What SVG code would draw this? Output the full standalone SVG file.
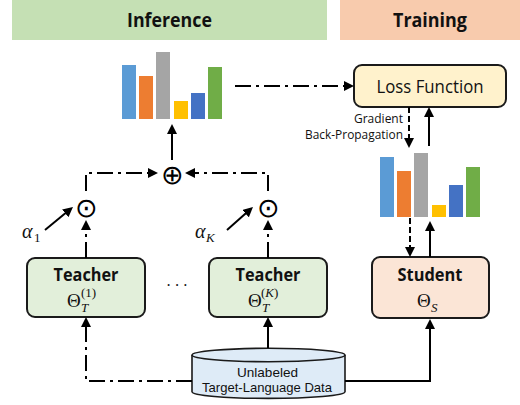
<svg xmlns="http://www.w3.org/2000/svg" width="520" height="405" viewBox="0 0 520 405">
<defs>
<marker id="ah" markerUnits="userSpaceOnUse" markerWidth="10" markerHeight="10" refX="2" refY="5" orient="auto">
<path d="M0,0 L10,5 L0,10 z" fill="#000"/>
</marker>
<style>
.hd{font-family:"Open Sans","Noto Sans",sans-serif;font-weight:bold;font-size:19px;fill:#111;text-anchor:middle}
.nm{font-family:"Open Sans","Noto Sans",sans-serif;font-weight:bold;font-size:17px;fill:#111;text-anchor:middle}
.lb{font-family:"Open Sans","Noto Sans",sans-serif;fill:#111}
.dl{font-family:"Liberation Sans",sans-serif;fill:#111}
.mt{font-family:"Liberation Serif",serif;fill:#111}
.box{stroke:#1a1a1a;stroke-width:2}
.c{fill:none;stroke:#000;stroke-width:2}
.dd{stroke-dasharray:16 5 3 5}
.da{stroke-dasharray:6 3}
.sym{font-family:"DejaVu Sans",sans-serif;font-weight:200;font-size:27px;fill:#000;text-anchor:middle}
</style>
</defs>
<rect width="520" height="405" fill="#fff"/>
<g id="header-inference"><rect x="12" y="0" width="315" height="40" fill="#C5E0B4"/><text class="hd" x="169.5" y="27" textLength="85" lengthAdjust="spacingAndGlyphs">Inference</text></g>
<g id="header-training"><rect x="340" y="0" width="180" height="40" fill="#F8CBAD"/><text class="hd" x="430" y="27" textLength="74" lengthAdjust="spacingAndGlyphs">Training</text></g>
<g id="teacher-bars">
<rect x="122" y="65" width="14" height="54" fill="#5B9BD5"/>
<rect x="139" y="76" width="14" height="43" fill="#ED7D31"/>
<rect x="156" y="52" width="14" height="67" fill="#A5A5A5"/>
<rect x="174" y="101" width="14" height="18" fill="#FFC000"/>
<rect x="191" y="93" width="14" height="26" fill="#4472C4"/>
<rect x="208" y="67" width="14" height="52" fill="#70AD47"/>
</g>
<g id="student-bars">
<rect x="380" y="157" width="14" height="60" fill="#5B9BD5"/>
<rect x="397" y="171" width="14" height="46" fill="#ED7D31"/>
<rect x="414" y="153" width="14" height="64" fill="#A5A5A5"/>
<rect x="432" y="205" width="14" height="12" fill="#FFC000"/>
<rect x="449" y="185" width="14" height="32" fill="#4472C4"/>
<rect x="466" y="167" width="14" height="50" fill="#70AD47"/>
</g>
<g id="loss"><rect class="box" x="354" y="65" width="152" height="42" rx="8" fill="#FFF2CC"/><text class="lb" x="430" y="92.5" font-size="17.5" text-anchor="middle" textLength="107" lengthAdjust="spacingAndGlyphs">Loss Function</text></g>
<g id="teacher1"><rect class="box" x="27" y="258" width="118" height="59" rx="8" fill="#E2EFDA"/><text class="nm" x="86" y="281" textLength="65" lengthAdjust="spacingAndGlyphs">Teacher</text>
<text class="mt" x="67" y="307" font-size="19">Θ</text><text class="mt" x="81" y="312" font-size="13" font-style="italic">T</text><text class="mt" x="81" y="297" font-size="13">(1)</text></g>
<g id="teacherK"><rect class="box" x="209" y="258" width="118" height="59" rx="8" fill="#E2EFDA"/><text class="nm" x="268" y="281" textLength="65" lengthAdjust="spacingAndGlyphs">Teacher</text>
<text class="mt" x="248" y="307" font-size="19">Θ</text><text class="mt" x="262" y="312" font-size="13" font-style="italic">T</text><text class="mt" x="261" y="297" font-size="13">(<tspan font-style="italic">K</tspan>)</text></g>
<g id="student"><rect class="box" x="372" y="257" width="117" height="61" rx="8" fill="#FBE5D6"/><text class="nm" x="430" y="281" textLength="65" lengthAdjust="spacingAndGlyphs">Student</text>
<text class="mt" x="417" y="307" font-size="19">Θ</text><text class="mt" x="431" y="312" font-size="13" font-style="italic">S</text></g>
<g id="data">
<path d="M192,355 L192,391.7 A76.5,6.7 0 0 0 345,391.7 L345,355" fill="#DEEBF7" stroke="#1a1a1a" stroke-width="1.6"/>
<ellipse cx="268.5" cy="355" rx="76.5" ry="6.7" fill="#DEEBF7" stroke="#1a1a1a" stroke-width="1.6"/>
<text class="dl" x="267.5" y="377" font-size="13" text-anchor="middle" textLength="61" lengthAdjust="spacingAndGlyphs">Unlabeled</text>
<text class="dl" x="267" y="392" font-size="13" text-anchor="middle" textLength="130" lengthAdjust="spacingAndGlyphs">Target-Language Data</text>
</g>
<g id="ops">
<text class="sym" x="86" y="216.5">⊙</text>
<text class="sym" x="268" y="216.5">⊙</text>
<text class="sym" x="172" y="183.5">⊕</text>
<text class="mt" x="22" y="238" font-size="20" font-style="italic">α</text><text class="mt" x="34" y="242" font-size="13">1</text>
<text class="mt" x="195" y="238" font-size="20" font-style="italic">α</text><text class="mt" x="206" y="242" font-size="13" font-style="italic">K</text>
<text class="lb" x="177" y="291" font-size="16" text-anchor="middle">· · ·</text>
<text class="lb" x="403" y="122.5" font-size="12.5" text-anchor="end" textLength="49" lengthAdjust="spacingAndGlyphs">Gradient</text>
<text class="lb" x="403" y="138.5" font-size="12.5" text-anchor="end" textLength="98" lengthAdjust="spacingAndGlyphs">Back-Propagation</text>
</g>
<g id="connectors">
<path class="c dd" d="M235,86 H346" marker-end="url(#ah)"/>
<path class="c da" d="M409,107 V140" marker-end="url(#ah)"/>
<path class="c" d="M429,146 V115" marker-end="url(#ah)"/>
<path class="c da" d="M410,218 V249" marker-end="url(#ah)"/>
<path class="c" d="M430,257 V229" marker-end="url(#ah)"/>
<path class="c" d="M172,160 V132" marker-end="url(#ah)"/>
<path class="c dd" d="M86,258 V228" marker-end="url(#ah)"/>
<path class="c dd" d="M268,258 V228" marker-end="url(#ah)"/>
<path class="c dd" d="M86,191 V173 H150" marker-end="url(#ah)"/>
<path class="c dd" d="M268,191 V173 H193" marker-end="url(#ah)"/>
<path class="c" d="M45,230 L66.8,212.1" marker-end="url(#ah)"/>
<path class="c" d="M227,230 L247,212.3" marker-end="url(#ah)"/>
<path class="c dd" d="M192,381 H86 V325" marker-end="url(#ah)"/>
<path class="c" d="M268,348 V325" marker-end="url(#ah)"/>
<path class="c" d="M345,381 H430 V327" marker-end="url(#ah)"/>
</g>
</svg>
